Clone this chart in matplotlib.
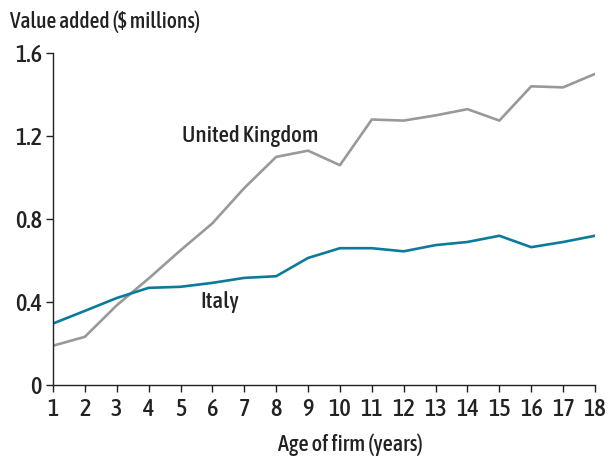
import matplotlib
matplotlib.use("Agg")
import matplotlib.pyplot as plt

plt.rcParams['font.family'] = ['Asap Condensed', 'DejaVu Sans']
plt.rcParams['font.weight'] = 500

years = list(range(1, 19))
uk = [0.19, 0.233, 0.385, 0.514, 0.65, 0.78, 0.95, 1.10, 1.13, 1.06,
      1.28, 1.275, 1.30, 1.33, 1.275, 1.44, 1.435, 1.50]
italy = [0.297, 0.358, 0.42, 0.469, 0.474, 0.493, 0.517, 0.525, 0.613, 0.66,
         0.66, 0.645, 0.675, 0.69, 0.72, 0.665, 0.69, 0.72]
yticks = [0, 0.4, 0.8, 1.2, 1.6]
ylabels = ['0', '0.4', '0.8', '1.2', '1.6']

fig = plt.figure(figsize=(6.09, 4.58), dpi=100)
ax = fig.add_axes([0.087, 0.159, 0.89, 0.725])

ax.plot(years, uk, color='#999999', lw=1.9)
ax.plot(years, italy, color='#0e7a9b', lw=1.9)

ax.set_xlim(1, 18)
ax.set_ylim(0, 1.6)
ax.set_xticks(years)
ax.set_yticks(yticks)
ax.set_yticklabels(ylabels)
ax.tick_params(labelsize=17.5, length=5, width=1, color='#222222', labelcolor='#222222')
ax.tick_params(axis='x', pad=4)
ax.tick_params(axis='y', pad=3)

for s in ['top', 'right']:
    ax.spines[s].set_visible(False)
for s in ['left', 'bottom']:
    ax.spines[s].set_linewidth(1)
    ax.spines[s].set_color('#222222')

ax.text(7.18, 1.2, 'United Kingdom', fontsize=16.5, ha='center', va='center', color='#222222')
ax.text(6.23, 0.4, 'Italy', fontsize=16.5, ha='center', va='center', color='#222222')

fig.text(0.016, 0.952, 'Value added ($ millions)', fontsize=15.5, ha='left', va='center', color='#222222')
fig.text(0.575, 0.03, 'Age of firm (years)', fontsize=16, ha='center', va='center', color='#222222')

fig.savefig('out.png', dpi=100)
